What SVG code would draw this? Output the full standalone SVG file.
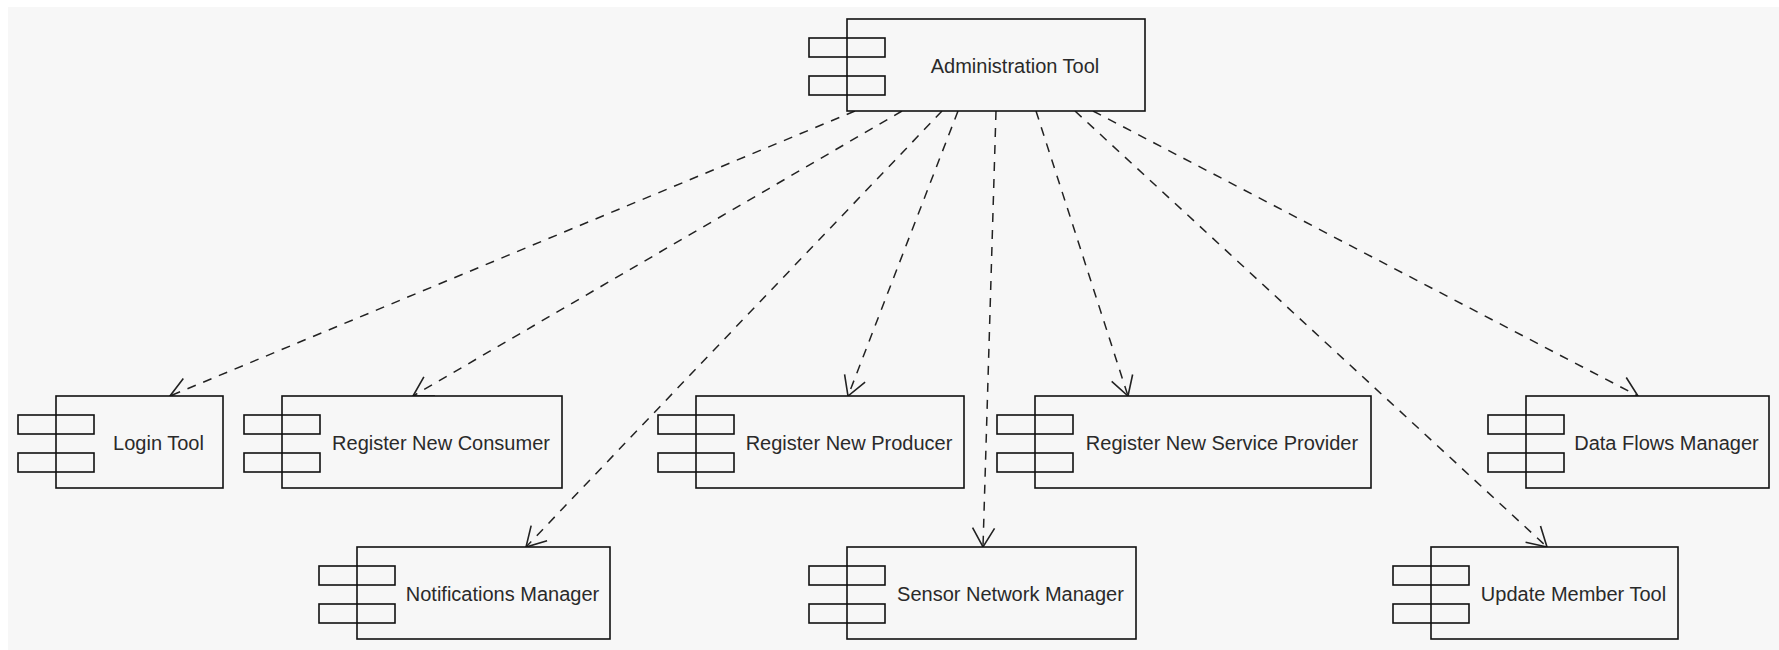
<svg xmlns="http://www.w3.org/2000/svg" width="1779" height="650" viewBox="0 0 1779 650">
  <style>
    .body { fill: #f7f7f7; stroke: #111; stroke-width: 1.6; }
    .tab { fill: none; stroke: #111; stroke-width: 1.6; }
    .label { font-family: "Liberation Sans", Arial, sans-serif; font-size: 20px; fill: #2a2a2a; text-anchor: middle; }
    .dep { fill: none; stroke: #222; stroke-width: 1.5; stroke-dasharray: 9 8; marker-end: url(#open-arrow); }
  </style>
  <defs>
    <marker id="open-arrow" markerUnits="userSpaceOnUse" viewBox="-22 -13 24 26" refX="0" refY="0" markerWidth="24" markerHeight="26" orient="auto">
      <path d="M-19,-11 L0,0 L-19,11" fill="none" stroke="#222" stroke-width="1.6" stroke-dasharray="none"/>
    </marker>
  </defs>

  <!-- canvas -->
  <rect x="0" y="0" width="1779" height="650" fill="#ffffff"/>
  <rect x="8" y="7" width="1771" height="643" fill="#f7f7f7"/>

  <!-- dependency connectors -->
  <g id="connectors">
    <line class="dep" x1="855" y1="111" x2="170" y2="396"/>
    <line class="dep" x1="902" y1="111" x2="413" y2="396"/>
    <line class="dep" x1="942" y1="111" x2="526" y2="547"/>
    <line class="dep" x1="958" y1="111" x2="848" y2="396"/>
    <line class="dep" x1="996" y1="111" x2="983" y2="547"/>
    <line class="dep" x1="1036" y1="111" x2="1128" y2="396"/>
    <line class="dep" x1="1075" y1="111" x2="1547" y2="547"/>
    <line class="dep" x1="1093" y1="111" x2="1638" y2="396"/>
  </g>

  <!-- components -->
  <g id="administration-tool">
    <rect class="body" x="847" y="19" width="298" height="92"/>
    <rect class="tab" x="809" y="38" width="76" height="19"/>
    <rect class="tab" x="809" y="76" width="76" height="19"/>
    <text class="label" x="1015" y="72.5">Administration Tool</text>
  </g>

  <g id="login-tool">
    <rect class="body" x="56" y="396" width="167" height="92"/>
    <rect class="tab" x="18" y="415" width="76" height="19"/>
    <rect class="tab" x="18" y="453" width="76" height="19"/>
    <text class="label" x="158.5" y="449.5">Login Tool</text>
  </g>

  <g id="register-new-consumer">
    <rect class="body" x="282" y="396" width="280" height="92"/>
    <rect class="tab" x="244" y="415" width="76" height="19"/>
    <rect class="tab" x="244" y="453" width="76" height="19"/>
    <text class="label" x="441" y="449.5">Register New Consumer</text>
  </g>

  <g id="register-new-producer">
    <rect class="body" x="696" y="396" width="268" height="92"/>
    <rect class="tab" x="658" y="415" width="76" height="19"/>
    <rect class="tab" x="658" y="453" width="76" height="19"/>
    <text class="label" x="849" y="449.5">Register New Producer</text>
  </g>

  <g id="register-new-service-provider">
    <rect class="body" x="1035" y="396" width="336" height="92"/>
    <rect class="tab" x="997" y="415" width="76" height="19"/>
    <rect class="tab" x="997" y="453" width="76" height="19"/>
    <text class="label" x="1222" y="449.5">Register New Service Provider</text>
  </g>

  <g id="data-flows-manager">
    <rect class="body" x="1526" y="396" width="243" height="92"/>
    <rect class="tab" x="1488" y="415" width="76" height="19"/>
    <rect class="tab" x="1488" y="453" width="76" height="19"/>
    <text class="label" x="1666.5" y="449.5">Data Flows Manager</text>
  </g>

  <g id="notifications-manager">
    <rect class="body" x="357" y="547" width="253" height="92"/>
    <rect class="tab" x="319" y="566" width="76" height="19"/>
    <rect class="tab" x="319" y="604" width="76" height="19"/>
    <text class="label" x="502.5" y="600.5">Notifications Manager</text>
  </g>

  <g id="sensor-network-manager">
    <rect class="body" x="847" y="547" width="289" height="92"/>
    <rect class="tab" x="809" y="566" width="76" height="19"/>
    <rect class="tab" x="809" y="604" width="76" height="19"/>
    <text class="label" x="1010.5" y="600.5">Sensor Network Manager</text>
  </g>

  <g id="update-member-tool">
    <rect class="body" x="1431" y="547" width="247" height="92"/>
    <rect class="tab" x="1393" y="566" width="76" height="19"/>
    <rect class="tab" x="1393" y="604" width="76" height="19"/>
    <text class="label" x="1573.5" y="600.5">Update Member Tool</text>
  </g>
</svg>
